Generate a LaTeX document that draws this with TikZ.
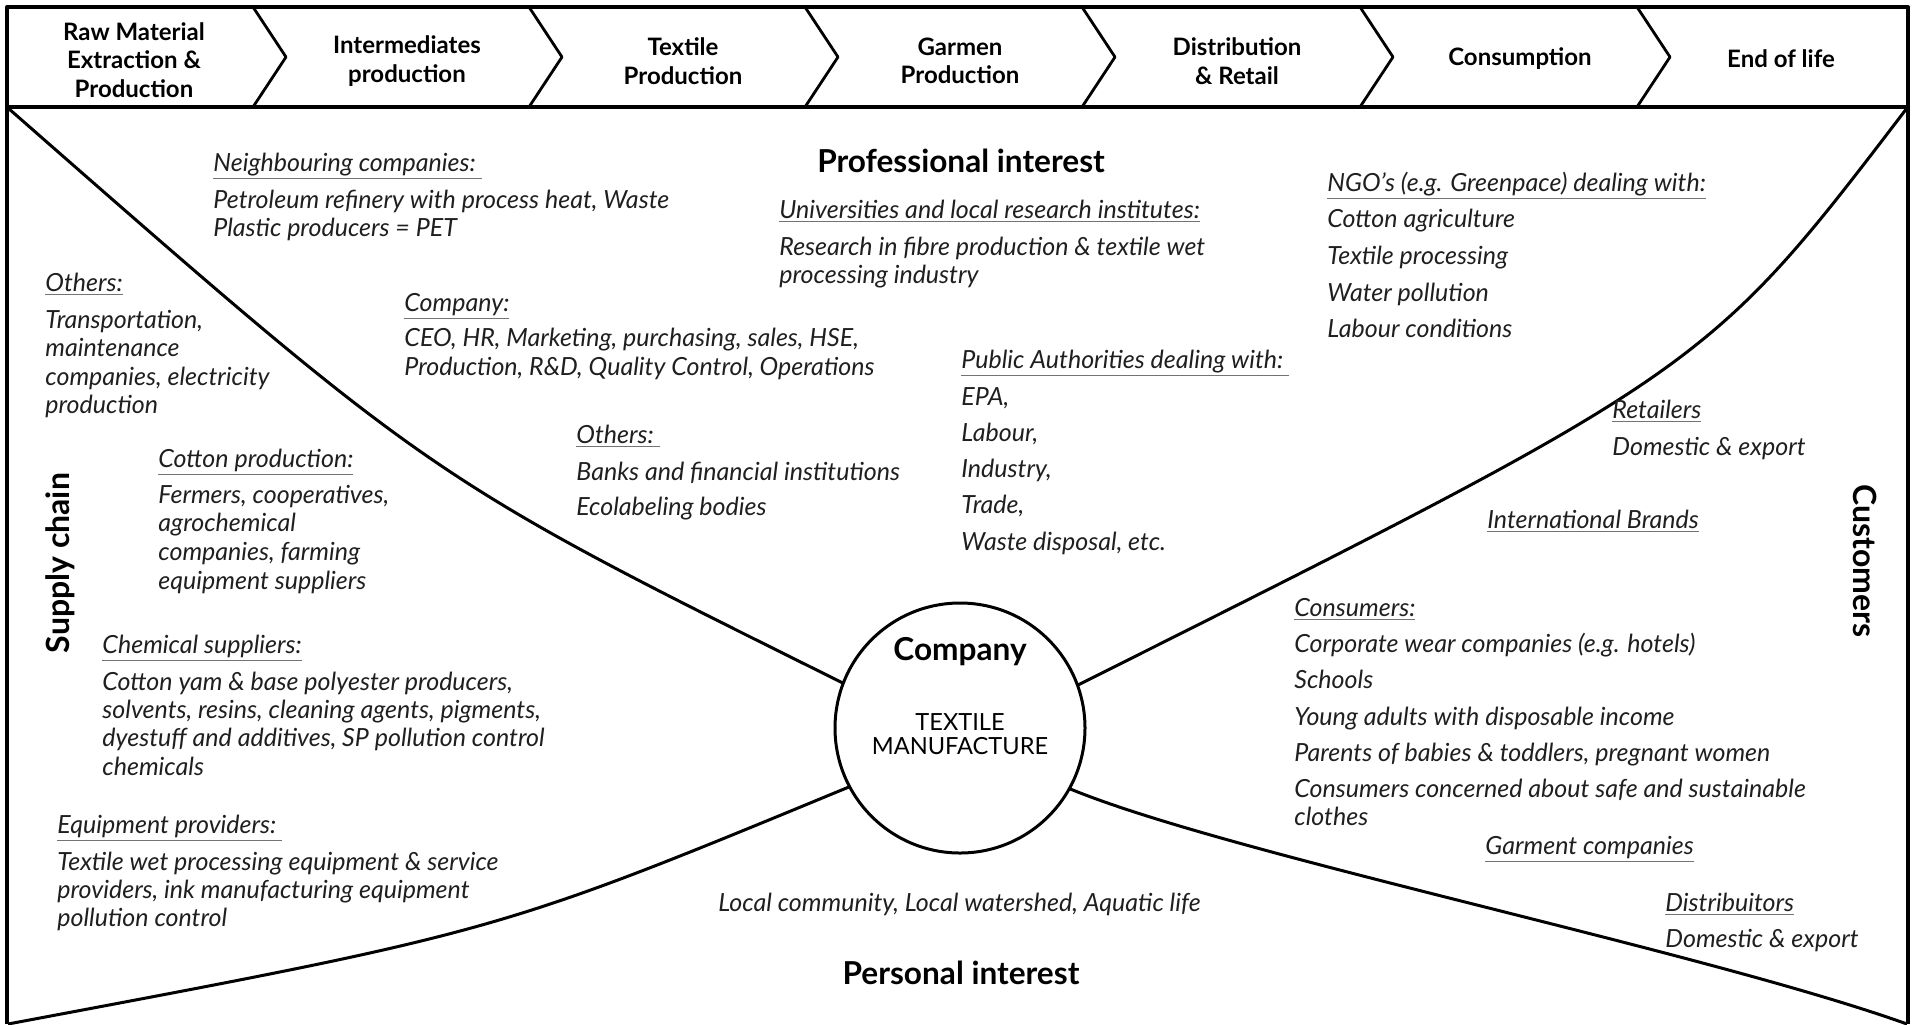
\documentclass[tikz,border=0pt]{standalone}
\usepackage{fontspec}
\setmainfont{Lato}
\newcommand\txtblock[3]{\foreach \yy/\tx [count=\ii] in {#3} {\node[body] (#1\ii) at (#2,\yy) {\tx};}}
\newcommand\ul[1]{{\color{black!55}\underline{\textcolor{black!88}{#1}}}}
\begin{document}
\begin{tikzpicture}[x=0.5pt,y=-0.5pt,line join=round,
  frame/.style={line width=2pt,black},
  sepline/.style={line width=1.4pt,black},
  curve/.style={line width=1.5pt,black},
  body/.style={anchor=base west,inner sep=0pt,font=\itshape\fontsize{12.5}{14}\selectfont,text=black!88},
  stage/.style={align=center,inner sep=0pt,font=\bfseries\fontsize{12}{14.2}\selectfont},
  heading/.style={inner sep=0pt,font=\bfseries\fontsize{15.8}{18}\selectfont},
  side/.style={inner sep=0pt,font=\bfseries\fontsize{16}{18}\selectfont}]
\useasboundingbox (0,0) rectangle (1917,1024);
% frame and stage bar
\draw[frame] (7,1024) -- (7,7) -- (1908,7) -- (1908,1024);
\draw[frame] (7,107) -- (1908,107);
\foreach \xt in {253,529,805,1082,1360,1637}
  \draw[sepline] (\xt,7) -- (\xt+33,57) -- (\xt,107);
% stage labels
\node[stage] (s1) at (134,60) {Raw Material\\Extraction \&\\Production};
\node[stage] (s2) at (407,61) {Intermediates\\production};
\node[stage] (s3) at (683,61) {Textile\\Production};
\node[stage] (s4) at (960,61) {Garmen\\Production};
\node[stage] (s5) at (1237,61) {Distribution\\\& Retail};
\node[stage] (s6) at (1520,59) {Consumption};
\node[stage] (s7) at (1781,59) {End of life};
% corners
\coordinate (tl) at (8,108);
\coordinate (tr) at (1907,108);
\coordinate (bl) at (8,1024);
\coordinate (br) at (1907,1024);
% central company
\node[circle,draw,line width=1.5pt,minimum size=125pt,inner sep=0pt,outer sep=0pt] (comp) at (960,728) {};
\node[inner sep=0pt,anchor=base,font=\bfseries\fontsize{15.8}{18}\selectfont] (compname) at (960,660) {Company};
\node[inner sep=0pt,anchor=base,align=center,font=\fontsize{11.8}{12}\selectfont] (compsub) at (960,754) {TEXTILE\\MANUFACTURE};
% curves
\draw[curve] (tl) .. controls (430,478) .. (comp.159.8);
\draw[curve] (tr) .. controls (1707,370) .. (comp.20.3);
\draw[curve] (bl) .. controls (498,932) .. (comp.208.6);
\draw[curve] (comp.331.6) .. controls (1230,855) and (1700,950) .. (br);
% headings
\node[heading] (prof) at (961,161) {Professional interest};
\node[heading] (pers) at (961,973) {Personal interest};
\node[side,rotate=90] (supply) at (60,563) {Supply chain};
\node[side,rotate=-90] (cust) at (1865,561) {Customers};
% text blocks
\txtblock{nb}{213}{171/{\ul{Neighbouring companies:\ }},208/{Petroleum refinery with process heat, Waste},236/{Plastic producers = PET}}
\txtblock{oa}{45}{291/{\ul{Others:}},328/{Transportation,},356/{maintenance},385/{companies, electricity},413/{production}}
\txtblock{co}{404}{311/{\ul{Company:}},346/{CEO, HR, Marketing, purchasing, sales, HSE,},375/{Production, R\&D, Quality Control, Operations}}
\txtblock{ob}{576}{443/{\ul{Others:\ }},480/{Banks and financial institutions},515/{Ecolabeling bodies}}
\txtblock{cp}{158}{467/{\ul{Cotton production:}},503/{Fermers, cooperatives,},531/{agrochemical},560/{companies, farming},589/{equipment suppliers}}
\txtblock{ch}{102}{653/{\ul{Chemical suppliers:}},690/{Cotton yam \& base polyester producers,},718/{solvents, resins, cleaning agents, pigments,},746/{dyestuff and additives, SP pollution control},775/{chemicals}}
\txtblock{eq}{57}{833/{\ul{Equipment providers:\ }},870/{Textile wet processing equipment \& service},898/{providers, ink manufacturing equipment},926/{pollution control}}
\txtblock{un}{779}{218/{\ul{Universities and local research institutes:}},255/{Research in fibre production \& textile wet},283/{processing industry}}
\txtblock{pa}{961}{368/{\ul{Public Authorities dealing with:\ }},405/{EPA,},441/{Labour,},477/{Industry,},513/{Trade,},550/{Waste disposal, etc.}}
\txtblock{ngo}{1327}{191/{\ul{NGO’s (e.g. Greenpace) dealing with:}},227/{Cotton agriculture},264/{Textile processing},301/{Water pollution},337/{Labour conditions}}
\txtblock{rt}{1612}{418/{\ul{Retailers}},455/{Domestic \& export}}
\txtblock{ib}{1487}{528/{\ul{International Brands}}}
\txtblock{cs}{1294}{616/{\ul{Consumers:}},652/{Corporate wear companies (e.g. hotels)},688/{Schools},725/{Young adults with disposable income},761/{Parents of babies \& toddlers, pregnant women},797/{Consumers concerned about safe and sustainable},825/{clothes}}
\txtblock{gc}{1485}{854/{\ul{Garment companies}}}
\txtblock{di}{1665}{911/{\ul{Distribuitors}},947/{Domestic \& export}}
\txtblock{lc}{718}{911/{Local community, Local watershed, Aquatic life}}
\end{tikzpicture}
\end{document}
